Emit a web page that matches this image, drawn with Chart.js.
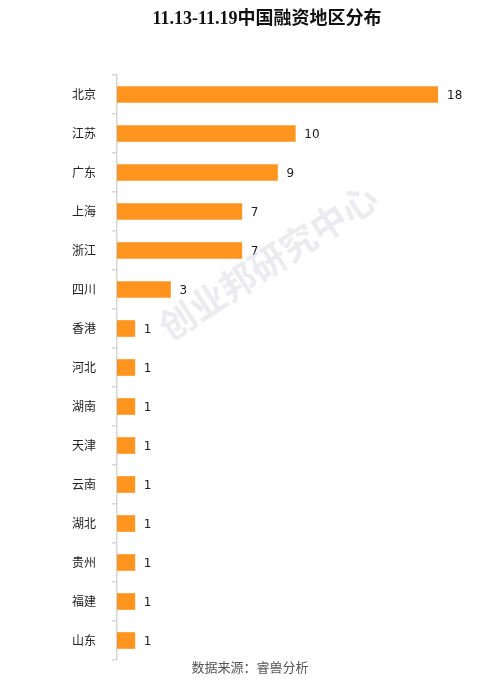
<!DOCTYPE html>
<html>
<head>
<meta charset="utf-8">
<script src="https://cdn.jsdelivr.net/npm/chart.js@4/dist/chart.umd.min.js"></script>
<style>
html,body{margin:0;padding:0;background:#fff;}
#wrap{position:relative;width:490px;height:700px;}
</style>
</head>
<body>
<div id="wrap"><canvas id="c" width="490" height="700"></canvas></div>
<script>
const titleText = '11.13-11.19中国融资地区分布';
const sourceText = '数据来源：睿兽分析';
const watermarkText = '创业邦研究中心';
const regions = ['北京','江苏','广东','上海','浙江','四川','香港','河北','湖南','天津','云南','湖北','贵州','福建','山东'];
const counts = [18,10,9,7,7,3,1,1,1,1,1,1,1,1,1];

const extras = {
  id: 'extras',
  afterDatasetsDraw(chart) {
    const ctx = chart.ctx;
    const meta = chart.getDatasetMeta(0);
    ctx.save();
    ctx.font = '12px "DejaVu Sans", "Noto Sans CJK SC", sans-serif';
    ctx.fillStyle = '#222';
    ctx.textAlign = 'left';
    ctx.textBaseline = 'middle';
    meta.data.forEach((bar, i) => {
      ctx.fillText(String(counts[i]), bar.x + 9, bar.y + 1);
    });
    ctx.restore();
  },
  afterDraw(chart) {
    const ctx = chart.ctx;
    ctx.save();
    // title
    ctx.font = 'bold 18px "Liberation Serif", "Noto Sans CJK SC", serif';
    ctx.fillStyle = '#111';
    ctx.textAlign = 'center';
    ctx.textBaseline = 'middle';
    ctx.fillText(titleText, 267, 19);
    // source
    ctx.font = '13px "Noto Sans CJK SC", sans-serif';
    ctx.fillStyle = '#555';
    ctx.fillText(sourceText, 250, 667);
    // watermark
    ctx.translate(268, 262);
    ctx.rotate(-33 * Math.PI / 180);
    ctx.font = 'bold 36px "Noto Sans CJK SC", sans-serif';
    ctx.fillStyle = 'rgba(205,205,218,0.4)';
    ctx.fillText(watermarkText, 0, 0);
    ctx.restore();
  }
};

new Chart(document.getElementById('c'), {
  type: 'bar',
  data: {
    labels: regions,
    datasets: [{
      data: counts,
      backgroundColor: '#FF951F',
      barThickness: 16
    }]
  },
  options: {
    indexAxis: 'y',
    responsive: false,
    animation: false,
    layout: { padding: { left: 0, right: 52, top: 75, bottom: 40 } },
    plugins: { legend: { display: false }, tooltip: { enabled: false } },
    scales: {
      x: { display: false, min: 0, max: 18 },
      y: {
        afterFit(scale) { scale.width = 117; },
        border: { color: '#d6d6d6', width: 1.5 },
        grid: { drawOnChartArea: false, color: '#d6d6d6', tickLength: 5, lineWidth: 1.5 },
        ticks: {
          padding: 16,
          color: '#222',
          font: { size: 12, family: '"Noto Sans CJK SC", sans-serif' }
        }
      }
    }
  },
  plugins: [extras]
});
</script>
</body>
</html>
